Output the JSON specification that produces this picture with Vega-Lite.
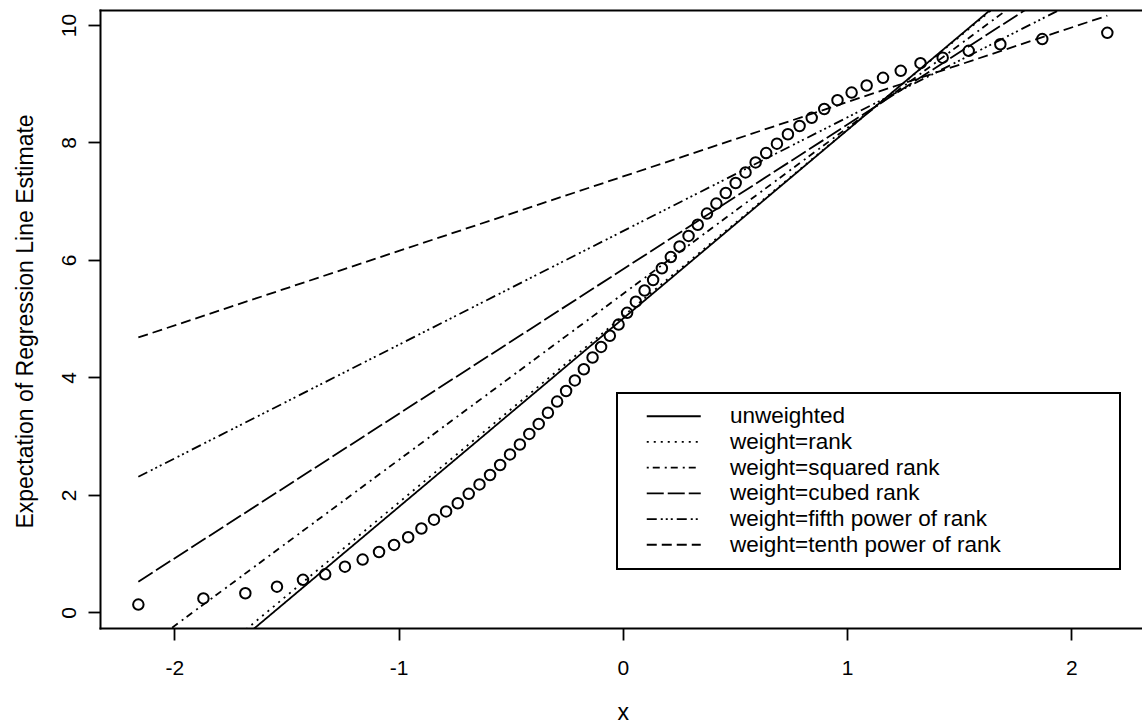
{
  "$schema": "https://vega.github.io/schema/vega-lite/v6.json",
  "width": 1042,
  "height": 618,
  "autosize": {"type": "none"},
  "padding": {"left": 100, "top": 10, "right": 0, "bottom": 95},
  "background": "white",
  "config": {
    "font": "Liberation Sans",
    "view": {"stroke": null},
    "axis": {"labelColor": "black", "titleColor": "black", "tickColor": "black", "domainColor": "black", "grid": false, "titleFontWeight": "normal", "labelFont": "Liberation Sans", "titleFont": "Liberation Sans"}
  },
  "datasets": {
    "points": [
      {"x": -2.160, "y": 0.134}, {"x": -1.870, "y": 0.240}, {"x": -1.683, "y": 0.328}, {"x": -1.542, "y": 0.440},
      {"x": -1.426, "y": 0.556}, {"x": -1.327, "y": 0.650}, {"x": -1.239, "y": 0.780}, {"x": -1.160, "y": 0.900},
      {"x": -1.087, "y": 1.030}, {"x": -1.020, "y": 1.150}, {"x": -0.957, "y": 1.280}, {"x": -0.898, "y": 1.430},
      {"x": -0.842, "y": 1.580}, {"x": -0.788, "y": 1.720}, {"x": -0.736, "y": 1.860}, {"x": -0.687, "y": 2.020},
      {"x": -0.639, "y": 2.180}, {"x": -0.592, "y": 2.340}, {"x": -0.547, "y": 2.510}, {"x": -0.503, "y": 2.690},
      {"x": -0.459, "y": 2.860}, {"x": -0.417, "y": 3.040}, {"x": -0.375, "y": 3.210}, {"x": -0.334, "y": 3.400},
      {"x": -0.293, "y": 3.590}, {"x": -0.253, "y": 3.770}, {"x": -0.214, "y": 3.950}, {"x": -0.174, "y": 4.140},
      {"x": -0.135, "y": 4.340}, {"x": -0.097, "y": 4.520}, {"x": -0.058, "y": 4.710}, {"x": -0.019, "y": 4.900},
      {"x": 0.019, "y": 5.100}, {"x": 0.058, "y": 5.290}, {"x": 0.097, "y": 5.480}, {"x": 0.135, "y": 5.660},
      {"x": 0.174, "y": 5.860}, {"x": 0.214, "y": 6.050}, {"x": 0.253, "y": 6.230}, {"x": 0.293, "y": 6.410},
      {"x": 0.334, "y": 6.600}, {"x": 0.375, "y": 6.790}, {"x": 0.417, "y": 6.960}, {"x": 0.459, "y": 7.140},
      {"x": 0.503, "y": 7.310}, {"x": 0.547, "y": 7.490}, {"x": 0.592, "y": 7.660}, {"x": 0.639, "y": 7.820},
      {"x": 0.687, "y": 7.980}, {"x": 0.736, "y": 8.140}, {"x": 0.788, "y": 8.280}, {"x": 0.842, "y": 8.420},
      {"x": 0.898, "y": 8.570}, {"x": 0.957, "y": 8.720}, {"x": 1.020, "y": 8.850}, {"x": 1.087, "y": 8.970},
      {"x": 1.160, "y": 9.100}, {"x": 1.239, "y": 9.220}, {"x": 1.327, "y": 9.350}, {"x": 1.426, "y": 9.444},
      {"x": 1.542, "y": 9.560}, {"x": 1.683, "y": 9.672}, {"x": 1.870, "y": 9.760}, {"x": 2.160, "y": 9.866}
    ],
    "lines": [
      {"series": "unweighted", "x": -2.16, "y": -1.929}, {"series": "unweighted", "x": 2.16, "y": 11.929},
      {"series": "weight=rank", "x": -2.16, "y": -1.812}, {"series": "weight=rank", "x": 2.16, "y": 11.892},
      {"series": "weight=squared rank", "x": -2.16, "y": -0.684}, {"series": "weight=squared rank", "x": 2.16, "y": 11.524},
      {"series": "weight=cubed rank", "x": -2.16, "y": 0.524}, {"series": "weight=cubed rank", "x": 2.16, "y": 11.156},
      {"series": "weight=fifth power of rank", "x": -2.16, "y": 2.310}, {"series": "weight=fifth power of rank", "x": 2.16, "y": 10.670},
      {"series": "weight=tenth power of rank", "x": -2.16, "y": 4.681}, {"series": "weight=tenth power of rank", "x": 2.16, "y": 10.159}
    ]
  },
  "layer": [
    {
      "data": {"name": "points"},
      "mark": {"type": "point", "shape": "circle", "filled": false, "stroke": "black", "strokeWidth": 2, "size": 110, "opacity": 1, "clip": true},
      "encoding": {
        "x": {"field": "x", "type": "quantitative",
          "scale": {"domain": [-2.331, 2.3146], "nice": false, "zero": false},
          "axis": {"orient": "bottom", "values": [-2, -1, 0, 1, 2], "tickSize": 12, "tickWidth": 1.8, "domainWidth": 2, "domainCap": "square",
            "labelExpr": "'' + datum.value",
            "labelFontSize": 21, "labelBaseline": "alphabetic", "labelPadding": 34, "labelFlush": false,
            "title": "x", "titleFontSize": 23, "titleBaseline": "alphabetic", "titleX": 522.8, "titleY": 91, "titleAlign": "center"}},
        "y": {"field": "y", "type": "quantitative",
          "scale": {"domain": [-0.264, 10.255], "nice": false, "zero": false},
          "axis": {"orient": "left", "values": [0, 2, 4, 6, 8, 10], "tickSize": 12, "tickWidth": 1.8, "domainWidth": 2, "domainCap": "square",
            "labelExpr": "'' + datum.value",
            "labelFontSize": 21, "labelAngle": -90, "labelAlign": "center", "labelBaseline": "alphabetic", "labelPadding": 13, "labelFlush": false,
            "title": "Expectation of Regression Line Estimate", "titleFontSize": 23, "titleAngle": -90, "titleBaseline": "alphabetic",
            "titleAlign": "center", "titleX": -68, "titleY": 311}}
      }
    },
    {
      "data": {"name": "lines"},
      "mark": {"type": "line", "color": "black", "strokeWidth": 1.8, "clip": true},
      "encoding": {
        "x": {"field": "x", "type": "quantitative",
          "scale": {"domain": [-2.331, 2.3146], "nice": false, "zero": false},
          "axis": {"orient": "top", "labels": false, "ticks": false, "domain": true, "domainWidth": 2, "domainCap": "square", "title": null}},
        "y": {"field": "y", "type": "quantitative", "scale": {"domain": [-0.264, 10.255], "nice": false, "zero": false}, "axis": null},
        "strokeDash": {"field": "series", "type": "nominal",
          "scale": {
            "domain": ["unweighted", "weight=rank", "weight=squared rank", "weight=cubed rank", "weight=fifth power of rank", "weight=tenth power of rank"],
            "range": [[1, 0], [2, 5], [2, 4, 7, 5], [17, 4], [10, 4, 2, 3, 2, 3, 2, 4], [10, 5]]
          },
          "legend": {
            "orient": "none", "legendX": 517, "legendY": 383,
            "title": "\u00a0", "titleOrient": "right", "titlePadding": 107, "titleFontSize": 22,
            "strokeColor": "black", "fillColor": "white", "padding": 12,
            "symbolType": "M-3,0H3", "symbolSize": 324, "symbolStrokeWidth": 1.8, "symbolStrokeColor": "black", "symbolFillColor": "transparent",
            "symbolOffset": 33.5, "labelOffset": 45, "labelFontSize": 22.5, "labelColor": "black", "labelFont": "Liberation Sans", "labelLimit": 600,
            "rowPadding": 2.7,
            "encode": {"legend": {"update": {"strokeWidth": {"value": 2}}}}
          }
        }
      }
    }
  ],
  "resolve": {"axis": {"x": "independent", "y": "independent"}}
}
